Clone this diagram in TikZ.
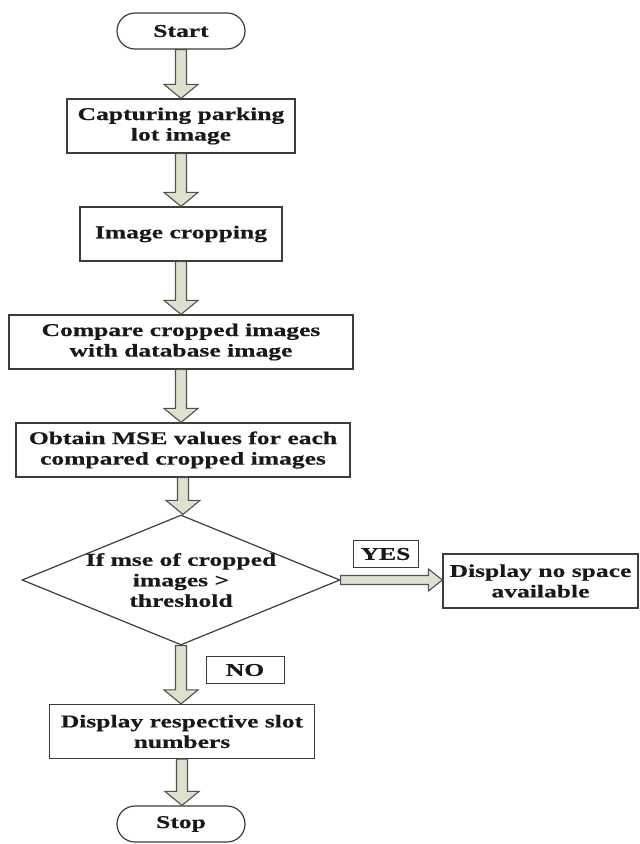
\documentclass[tikz,border=0pt]{standalone}
\usepackage{fontspec}
\setmainfont{Liberation Serif}[FakeStretch=1.42,BoldFeatures={FakeBold=0.4}]
\usetikzlibrary{shapes.geometric,shapes.misc,calc}
\definecolor{boxc}{RGB}{60,60,60}
\definecolor{txt}{RGB}{25,25,25}
\definecolor{arrfill}{RGB}{222,225,206}
\definecolor{arrline}{RGB}{80,80,80}
\newcommand{\flowfont}{\fontsize{18}{20.5}\selectfont\bfseries}
\newcommand{\vblk}[2]{%
  \draw[blk] let \p1=(#1.south), \p2=(#2.north) in
  (\x1-5.5pt,\y1) -- (\x1-5.5pt,\y2+14pt) -- (\x1-17pt,\y2+14pt) -- (\x1,\y2)
  -- (\x1+17pt,\y2+14pt) -- (\x1+5.5pt,\y2+14pt) -- (\x1+5.5pt,\y1) -- cycle;}
\newcommand{\hblk}[2]{%
  \draw[blk] let \p1=(#1.east), \p2=(#2.west) in
  (\x1,\y1+4.5pt) -- (\x2-14pt,\y1+4.5pt) -- (\x2-14pt,\y1+11pt) -- (\x2,\y1)
  -- (\x2-14pt,\y1-11pt) -- (\x2-14pt,\y1-4.5pt) -- (\x1,\y1-4.5pt) -- cycle;}
\begin{document}
\begin{tikzpicture}[x=1pt,y=-1pt,
  box/.style={draw=boxc, line width=1.2pt, fill=white, minimum width=#1,
    minimum height=54pt, inner sep=2pt, align=center, font=\flowfont, text=txt},
  term/.style={draw=boxc, line width=1.2pt, fill=white, rounded rectangle,
    minimum width=132pt, minimum height=36pt, inner sep=2pt, font=\flowfont, text=txt},
  lab/.style={draw=boxc, line width=1pt, fill=white, inner sep=1pt,
    font=\flowfont, text=txt, minimum height=27pt},
  blk/.style={draw=arrline, line width=1.1pt, fill=arrfill, line join=miter}]
\useasboundingbox (0,0) rectangle (640,844);
\node[term] (start) at (181,31) {Start};
\node[box=228pt] (b1) at (181,126) {Capturing parking\\lot image};
\node[box=202pt] (b2) at (181,234) {Image cropping};
\node[box=344pt] (b3) at (181,342) {Compare cropped images\\with database image};
\node[box=334pt] (b4) at (183,450) {Obtain MSE values for each\\compared cropped images};
\node[draw=boxc, line width=1.2pt, fill=white, diamond, minimum width=318pt,
  minimum height=130pt, inner sep=0pt] (dia) at (181,580) {};
\node[align=center, font=\flowfont, text=txt] (diat) at (dia) {If mse of cropped\\images >\\threshold};
\node[box=195pt] (b6) at (540.5,581) {Display no space\\available};
\node[box=265pt] (b5) at (182,731.5) {Display respective slot\\numbers};
\node[term] (stop) at (181,824) {Stop};
\node[lab, minimum width=65pt] (yes) at (385.5,554) {YES};
\node[lab, minimum width=78pt] (no) at (245,670) {NO};
\vblk{start}{b1}
\vblk{b1}{b2}
\vblk{b2}{b3}
\vblk{b3}{b4}
\vblk{b4}{dia}
\vblk{dia}{b5}
\vblk{b5}{stop}
\hblk{dia}{b6}
\end{tikzpicture}
\end{document}
